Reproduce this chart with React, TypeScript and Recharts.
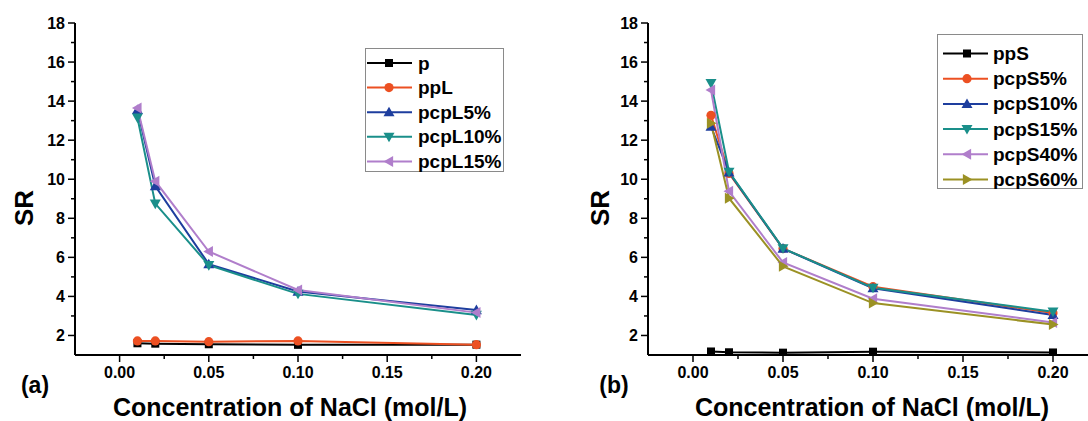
import { LineChart, Line, XAxis, YAxis } from 'recharts';

// NaCl concentration (mol/L)
const concentrations = [0.01, 0.02, 0.05, 0.1, 0.2];

// panel (a)
const namesA = ['p', 'ppL', 'pcpL5%', 'pcpL10%', 'pcpL15%'];
const p = [1.6, 1.58, 1.55, 1.52, 1.53];
const ppL = [1.72, 1.72, 1.68, 1.72, 1.53];
const pcpL5 = [13.55, 9.65, 5.65, 4.25, 3.3];
const pcpL10 = [13.15, 8.75, 5.6, 4.13, 3.05];
const pcpL15 = [13.65, 9.9, 6.3, 4.33, 3.17];

// panel (b)
const namesB = ['ppS', 'pcpS5%', 'pcpS10%', 'pcpS15%', 'pcpS40%', 'pcpS60%'];
const ppS = [1.18, 1.14, 1.12, 1.17, 1.13];
const pcpS5 = [13.27, 10.3, 6.45, 4.5, 3.15];
const pcpS10 = [12.7, 10.35, 6.45, 4.42, 3.05];
const pcpS15 = [14.92, 10.38, 6.46, 4.44, 3.22];
const pcpS40 = [14.57, 9.38, 5.74, 3.88, 2.67];
const pcpS60 = [12.87, 9.03, 5.54, 3.66, 2.56];

const xMajorTicks = [0, 0.05, 0.1, 0.15, 0.2];
const xMinorTicks = [0.025, 0.075, 0.125, 0.175];
const yMajorTicks = [2, 4, 6, 8, 10, 12, 14, 16, 18];
const yMinorTicks = [3, 5, 7, 9, 11, 13, 15, 17];

const xTitle = 'Concentration of NaCl (mol/L)';
const yTitle = 'SR';

const FONT = '"Liberation Sans", Arial, sans-serif';

const stylesA = [
  { color: '#000000', shape: 'square' },
  { color: '#EC5022', shape: 'circle' },
  { color: '#1E3E9E', shape: 'up' },
  { color: '#1A8F8A', shape: 'down' },
  { color: '#B07ECB', shape: 'left' },
];
const stylesB = [
  { color: '#000000', shape: 'square' },
  { color: '#EC5022', shape: 'circle' },
  { color: '#1E3E9E', shape: 'up' },
  { color: '#1A8F8A', shape: 'down' },
  { color: '#B07ECB', shape: 'left' },
  { color: '#9B9124', shape: 'right' },
];

const buildRows = (series: number[][]) =>
  concentrations.map((x, i) => {
    const row: any = { x };
    series.forEach((s, k) => {
      row['s' + k] = s[i];
    });
    return row;
  });

const dataA = buildRows([p, ppL, pcpL5, pcpL10, pcpL15]);
const dataB = buildRows([ppS, pcpS5, pcpS10, pcpS15, pcpS40, pcpS60]);

const Marker = ({ cx, cy, shape, color }: any) => {
  if (cx == null || cy == null) return null;
  const t = 5.5;
  switch (shape) {
    case 'square':
      return <rect x={cx - 4} y={cy - 4} width={8} height={8} fill={color} />;
    case 'circle':
      return <circle cx={cx} cy={cy} r={4.6} fill={color} />;
    case 'up':
      return <polygon points={`${cx},${cy - t} ${cx + t},${cy + t * 0.75} ${cx - t},${cy + t * 0.75}`} fill={color} />;
    case 'down':
      return <polygon points={`${cx},${cy + t} ${cx + t},${cy - t * 0.75} ${cx - t},${cy - t * 0.75}`} fill={color} />;
    case 'left':
      return <polygon points={`${cx - t},${cy} ${cx + t * 0.75},${cy - t} ${cx + t * 0.75},${cy + t}`} fill={color} />;
    default:
      return <polygon points={`${cx + t},${cy} ${cx - t * 0.75},${cy - t} ${cx - t * 0.75},${cy + t}`} fill={color} />;
  }
};

const isMajor = (v: number, majors: number[]) => majors.some((m) => Math.abs(m - v) < 1e-9);

const XTick = ({ x, y, payload }: any) => {
  const major = isMajor(payload.value, xMajorTicks);
  return (
    <g>
      <line x1={x} y1={y} x2={x} y2={y + (major ? 7 : 4)} stroke="#000" strokeWidth={1.5} />
      {major && (
        <text x={x} y={y + 23} textAnchor="middle" fontSize={16} fontWeight="bold" fontFamily={FONT} fill="#000">
          {payload.value.toFixed(2)}
        </text>
      )}
    </g>
  );
};

const YTick = ({ x, y, payload }: any) => {
  const major = isMajor(payload.value, yMajorTicks);
  return (
    <g>
      <line x1={x} y1={y} x2={x - (major ? 7 : 4)} y2={y} stroke="#000" strokeWidth={1.5} />
      {major && (
        <text x={x - 10} y={y + 6} textAnchor="end" fontSize={16} fontWeight="bold" fontFamily={FONT} fill="#000">
          {payload.value}
        </text>
      )}
    </g>
  );
};

const LegendBox = ({ names, styles, left, top, width, height, first, step, lineX, markX, textX }: any) => (
  <div
    style={{
      position: 'absolute',
      left,
      top,
      width,
      height,
      border: '1px solid #8a8a8a',
      background: '#fff',
      boxSizing: 'border-box',
    }}
  >
    <svg width={width} height={height} style={{ position: 'absolute', left: -1, top: -1 }}>
      {names.map((n: string, i: number) => {
        const cy = first + i * step;
        return (
          <g key={n}>
            <line x1={lineX[0]} y1={cy} x2={lineX[1]} y2={cy} stroke={styles[i].color} strokeWidth={2} />
            <Marker cx={markX} cy={cy} shape={styles[i].shape} color={styles[i].color} />
            <text x={textX} y={cy + 6.5} fontSize={19} fontWeight="bold" fontFamily={FONT} fill="#000">
              {n}
            </text>
          </g>
        );
      })}
    </svg>
  </div>
);

const Panel = ({ data, names, styles, left, yAxisWidth, marginRight }: any) => (
  <div style={{ position: 'absolute', left, top: 0 }}>
    <LineChart width={560} height={421} data={data} margin={{ top: 23, right: marginRight, bottom: 36, left: 0 }}>
      <XAxis
        dataKey="x"
        type="number"
        domain={[-0.025, 0.225]}
        allowDataOverflow
        ticks={[...xMajorTicks, ...xMinorTicks]}
        interval={0}
        tick={<XTick />}
        tickLine={false}
        tickSize={0}
        tickMargin={0}
        height={30}
        axisLine={{ stroke: '#000', strokeWidth: 2 }}
      />
      <XAxis
        xAxisId="top"
        orientation="top"
        dataKey="x"
        type="number"
        domain={[-0.025, 0.225]}
        allowDataOverflow
        tick={false}
        tickLine={false}
        height={0}
        axisLine={{ stroke: '#000', strokeWidth: 2 }}
      />
      <YAxis
        type="number"
        domain={[1, 18]}
        allowDataOverflow
        ticks={[...yMajorTicks, ...yMinorTicks]}
        interval={0}
        tick={<YTick />}
        tickLine={false}
        tickSize={0}
        tickMargin={0}
        width={yAxisWidth}
        axisLine={{ stroke: '#000', strokeWidth: 2 }}
      />
      <YAxis
        yAxisId="right"
        orientation="right"
        type="number"
        domain={[1, 18]}
        tick={false}
        tickLine={false}
        width={0}
        axisLine={{ stroke: '#000', strokeWidth: 2 }}
      />
      {names.map((n: string, k: number) => (
        <Line
          key={n}
          name={n}
          dataKey={'s' + k}
          type="linear"
          stroke={styles[k].color}
          strokeWidth={2}
          isAnimationActive={false}
          dot={(props: any) => (
            <Marker key={`${n}-${props.index}`} cx={props.cx} cy={props.cy} shape={styles[k].shape} color={styles[k].color} />
          )}
          activeDot={false}
        />
      ))}
    </LineChart>
  </div>
);

const textStyle = (x: number, y: number, size: number, rotate = 0): any => ({
  position: 'absolute',
  left: x,
  top: y,
  transform: `translate(-50%, -50%) rotate(${rotate}deg)`,
  fontSize: size,
  fontWeight: 'bold',
  fontFamily: FONT,
  whiteSpace: 'nowrap',
  lineHeight: 1,
  color: '#000',
});

export default function App() {
  return (
    <div
      style={{
        position: 'fixed',
        left: 0,
        top: 0,
        width: 1088,
        height: 421,
        overflow: 'hidden',
        background: '#fff',
      }}
    >
      <Panel data={dataA} names={namesA} styles={stylesA} left={0} yAxisWidth={75} marginRight={39} />
      <Panel data={dataB} names={namesB} styles={stylesB} left={560} yAxisWidth={88} marginRight={22} />

      <LegendBox
        names={namesA}
        styles={stylesA}
        left={365}
        top={48}
        width={139}
        height={124}
        first={15}
        step={24.6}
        lineX={[2, 47]}
        markX={24}
        textX={53}
      />
      <LegendBox
        names={namesB}
        styles={stylesB}
        left={937}
        top={34}
        width={146}
        height={155}
        first={19.5}
        step={25.2}
        lineX={[6, 51]}
        markX={30}
        textX={56}
      />

      <div style={textStyle(24, 208, 26, -90)}>{yTitle}</div>
      <div style={textStyle(600, 208, 26, -90)}>{yTitle}</div>
      <div style={textStyle(290, 407, 25)}>{xTitle}</div>
      <div style={textStyle(872, 407, 25)}>{xTitle}</div>
      <div style={textStyle(35, 385, 23)}>(a)</div>
      <div style={textStyle(614, 385, 23)}>(b)</div>
    </div>
  );
}
